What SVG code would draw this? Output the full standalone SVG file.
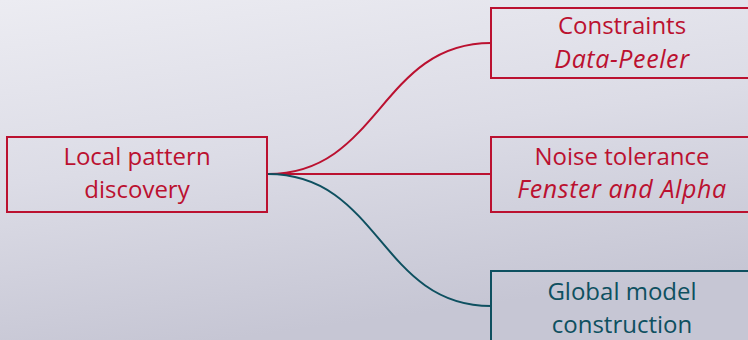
<svg xmlns="http://www.w3.org/2000/svg" width="748" height="340" viewBox="0 0 748 340">
<defs>
<linearGradient id="bg" x1="0" y1="0" x2="0.3" y2="1">
<stop offset="0" stop-color="#ececf2"/>
<stop offset="0.5" stop-color="#dcdce6"/>
<stop offset="1" stop-color="#c6c6d4"/>
</linearGradient>
<style>
.box{fill:none;stroke-width:2}
.red{stroke:#bb1130}
.teal{stroke:#0e5060}
.t{font-family:"Open Sans","DejaVu Sans",sans-serif;font-size:24px;text-anchor:middle}
.tr{fill:#bb1130}
.tt{fill:#0e5060}
.i{font-style:italic;font-size:25px;letter-spacing:0.6px}
.edge{fill:none;stroke-width:2}
</style>
</defs>
<rect width="748" height="340" fill="url(#bg)"/>
<g id="connectors">
<path class="edge red" d="M268,174 C380,174 380,43 491,43"/>
<path class="edge red" d="M268,174 L491,174"/>
<path class="edge teal" d="M268,174 C380,174 380,306 491,306"/>
</g>
<g id="local">
<rect class="box red" x="7" y="137" width="260" height="75"/>
<text class="t tr" x="137" y="165">Local pattern</text>
<text class="t tr" x="137" y="198">discovery</text>
</g>
<g id="constraints">
<rect class="box red" x="491" y="8" width="262" height="70"/>
<text class="t tr" x="622" y="34">Constraints</text>
<text class="t tr i" x="622" y="68">Data-Peeler</text>
</g>
<g id="noise">
<rect class="box red" x="491" y="137" width="262" height="75"/>
<text class="t tr" x="622" y="165">Noise tolerance</text>
<text class="t tr i" x="622" y="198">Fenster and Alpha</text>
</g>
<g id="global">
<rect class="box teal" x="491" y="271" width="262" height="80"/>
<text class="t tt" x="622" y="300">Global model</text>
<text class="t tt" x="622" y="333">construction</text>
</g>
</svg>
